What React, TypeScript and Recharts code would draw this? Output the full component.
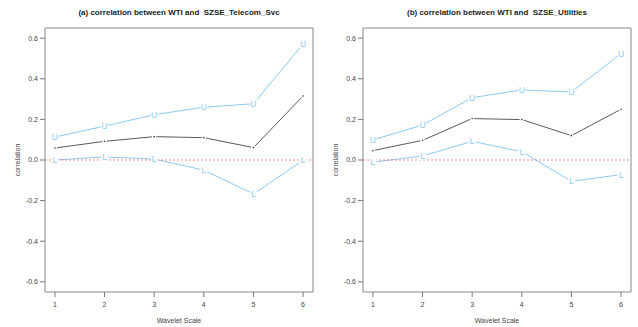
import { LineChart, Line, XAxis, YAxis, ReferenceLine, ReferenceArea } from 'recharts';

const scales = [1, 2, 3, 4, 5, 6];
const yTicks = [-0.6, -0.4, -0.2, 0, 0.2, 0.4, 0.6];

const telecomUpper = [0.113, 0.167, 0.223, 0.26, 0.277, 0.571];
const telecomMid = [0.059, 0.092, 0.115, 0.11, 0.061, 0.315];
const telecomLower = [0.0, 0.015, 0.005, -0.05, -0.167, -0.002];

const utilUpper = [0.099, 0.172, 0.307, 0.345, 0.335, 0.524];
const utilMid = [0.046, 0.097, 0.204, 0.199, 0.12, 0.25];
const utilLower = [-0.011, 0.02, 0.092, 0.041, -0.105, -0.072];

const BLUE = '#8ec9f0';
const MID = '#5a5a5a';
const FONT = '"Liberation Sans", Arial, sans-serif';

const letterDot = (letter: string) => (props: any) => {
  const { cx, cy, index } = props;
  if (cx == null || cy == null) return null;
  return (
    <g key={letter + index}>
      <rect x={cx - 3.5} y={cy - 4.5} width={7} height={9} fill="#fff" />
      <text x={cx} y={cy + 3} textAnchor="middle" fontSize={8.5} fontFamily={FONT} fill={BLUE}>
        {letter}
      </text>
    </g>
  );
};

const smallDot = (props: any) => {
  const { cx, cy, index } = props;
  if (cx == null || cy == null) return null;
  return (
    <g key={'m' + index}>
      <circle cx={cx} cy={cy} r={2.2} fill="#fff" />
      <circle cx={cx} cy={cy} r={0.8} fill="#333" />
    </g>
  );
};

interface PanelProps {
  title: string;
  upper: number[];
  mid: number[];
  lower: number[];
  width: number;
  right: number;
}

const Panel = ({ title, upper, mid, lower, width, right }: PanelProps) => {
  const data = scales.map((s, i) => ({ scale: s, upper: upper[i], mid: mid[i], lower: lower[i] }));
  const boxLeft = 45;
  const boxRight = width - right;
  const center = (boxLeft + boxRight) / 2;
  return (
    <div style={{ position: 'relative', width, height: 327 }}>
      <LineChart width={width} height={327} data={data} margin={{ top: 28, right, left: 0, bottom: 0 }}>
        <XAxis
          dataKey="scale"
          type="number"
          domain={[0.8, 6.2]}
          ticks={scales}
          axisLine={false}
          tickLine={{ stroke: '#777' }}
          tickSize={5}
          tickMargin={5}
          tick={{ fontSize: 7, fill: '#444', fontFamily: FONT }}
          height={35}
          allowDataOverflow
        />
        <YAxis
          type="number"
          domain={[-0.65, 0.65]}
          ticks={yTicks}
          axisLine={false}
          tickLine={{ stroke: '#777' }}
          tickSize={5}
          tick={{ fontSize: 7, fill: '#444', fontFamily: FONT }}
          tickFormatter={(v: number) => v.toFixed(1)}
          width={45}
          allowDataOverflow
        />
        <ReferenceArea x1={0.8} x2={6.2} y1={-0.65} y2={0.65} fill="none" stroke="#888" strokeWidth={1} ifOverflow="visible" />
        <Line dataKey="upper" stroke={BLUE} strokeWidth={1} dot={letterDot('U')} activeDot={false} isAnimationActive={false} />
        <Line dataKey="mid" stroke={MID} strokeWidth={1} dot={smallDot} activeDot={false} isAnimationActive={false} />
        <Line dataKey="lower" stroke={BLUE} strokeWidth={1} dot={letterDot('L')} activeDot={false} isAnimationActive={false} />
        <ReferenceLine y={0} stroke="#ff5050" strokeDasharray="2 2" strokeWidth={0.7} />
      </LineChart>
      <svg width={width} height={327} style={{ position: 'absolute', left: 0, top: 0, pointerEvents: 'none' }}>
        <text x={center} y={15} textAnchor="middle" fontSize={8} fontWeight="bold" fontFamily={FONT} fill="#222" style={{ whiteSpace: 'pre' }}>
          {title}
        </text>
        <text x={center} y={323} textAnchor="middle" fontSize={7} fontFamily={FONT} fill="#444">
          Wavelet Scale
        </text>
        <text x={20} y={160} textAnchor="middle" fontSize={7} fontFamily={FONT} fill="#444" transform="rotate(-90 20 160)">
          correlation
        </text>
      </svg>
    </div>
  );
};

export default function App() {
  return (
    <div style={{ position: 'absolute', left: 0, top: 0, width: 638, height: 327, background: '#fff', display: 'flex' }}>
      <Panel title="(a) correlation between WTI and  SZSE_Telecom_Svc" upper={telecomUpper} mid={telecomMid} lower={telecomLower} width={318} right={5} />
      <Panel title="(b) correlation between WTI and  SZSE_Utilities" upper={utilUpper} mid={utilMid} lower={utilLower} width={320} right={7} />
    </div>
  );
}
